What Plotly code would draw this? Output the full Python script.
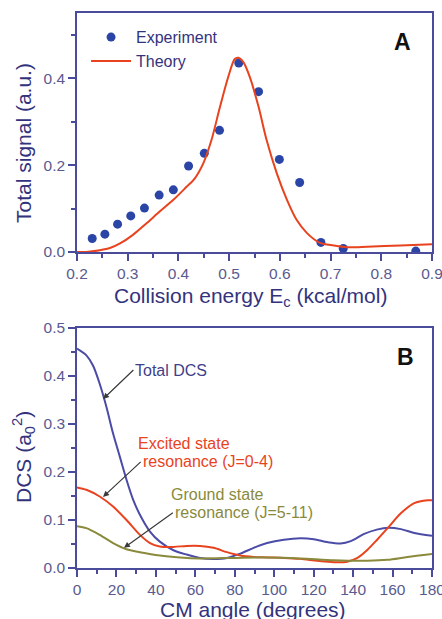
import plotly.graph_objects as go

# ---------- Panel A data ----------
exp_x = [0.230, 0.255, 0.280, 0.306, 0.333, 0.362, 0.390, 0.420, 0.451, 0.481,
         0.519, 0.558, 0.599, 0.639, 0.681, 0.725, 0.868]
exp_y = [0.031, 0.041, 0.064, 0.083, 0.101, 0.131, 0.143, 0.198, 0.227, 0.280,
         0.435, 0.369, 0.213, 0.160, 0.022, 0.008, 0.002]

th_x = [0.200, 0.218, 0.245, 0.265, 0.284, 0.311, 0.337, 0.363, 0.390, 0.416,
        0.432, 0.449, 0.465, 0.482, 0.498, 0.511, 0.518, 0.528, 0.541, 0.558,
        0.574, 0.594, 0.614, 0.633, 0.653, 0.679, 0.706, 0.732, 0.772, 0.838, 0.900]
th_y = [0.000, 0.000, 0.004, 0.009, 0.019, 0.040, 0.066, 0.093, 0.120, 0.150,
        0.169, 0.204, 0.257, 0.334, 0.402, 0.444, 0.447, 0.437, 0.402, 0.334,
        0.257, 0.181, 0.120, 0.074, 0.044, 0.021, 0.015, 0.011, 0.012, 0.015, 0.018]

# ---------- Panel B data ----------
tot_x = [0, 4.75, 8.1, 11.5, 14.9, 18.3, 21.7, 25.1, 28.5, 31.9, 37, 42, 48.9, 55.6,
         62.4, 69.2, 76, 82.8, 89.6, 96.4, 104.9, 113.3, 120.1, 126.9, 133.7, 138.8,
         145.6, 152, 158, 164.2, 171, 180]
tot_y = [0.457, 0.443, 0.422, 0.384, 0.336, 0.280, 0.232, 0.184, 0.142, 0.111, 0.076,
         0.055, 0.037, 0.028, 0.021, 0.019, 0.021, 0.030, 0.042, 0.052, 0.059, 0.062,
         0.060, 0.054, 0.051, 0.056, 0.071, 0.080, 0.084, 0.081, 0.073, 0.067]

exc_x = [0, 4.75, 11.5, 18.3, 25.1, 31.9, 37, 42, 48.9, 55.6, 62.4, 69.2, 76, 82.8,
         89.6, 96.4, 105, 113.3, 121.8, 130.3, 137, 142.2, 147.3, 152.4, 157.5, 164.2,
         171, 177.8, 180]
exc_y = [0.168, 0.163, 0.149, 0.128, 0.100, 0.069, 0.052, 0.045, 0.044, 0.046, 0.046,
         0.042, 0.033, 0.026, 0.023, 0.022, 0.021, 0.019, 0.015, 0.012, 0.013, 0.021,
         0.038, 0.060, 0.083, 0.114, 0.135, 0.141, 0.141]

gnd_x = [0, 4.75, 11.5, 18.3, 25.1, 31.9, 42, 52.3, 62.4, 79.4, 96.4, 113.3, 130.3,
         147.3, 157.5, 167.6, 180]
gnd_y = [0.087, 0.083, 0.069, 0.052, 0.039, 0.033, 0.026, 0.022, 0.020, 0.021, 0.022,
         0.020, 0.016, 0.015, 0.017, 0.023, 0.029]

AXIS = "#4b4b9b"
TICKC = "#5a5a8e"
TITLEC = "#33337d"
FONT = "Liberation Sans, Arial, sans-serif"

fig = go.Figure()

fig.add_trace(go.Scatter(x=exp_x, y=exp_y, mode="markers", name="Experiment",
                         marker=dict(size=9, color="#2b45a6"), xaxis="x", yaxis="y"))
fig.add_trace(go.Scatter(x=th_x, y=th_y, mode="lines", name="Theory",
                         line=dict(color="#e8431e", width=2, shape="spline", smoothing=0.8),
                         xaxis="x", yaxis="y"))

fig.add_trace(go.Scatter(x=tot_x, y=tot_y, mode="lines", showlegend=False,
                         line=dict(color="#4b4ba8", width=2, shape="spline", smoothing=0.8),
                         xaxis="x2", yaxis="y2"))
fig.add_trace(go.Scatter(x=exc_x, y=exc_y, mode="lines", showlegend=False,
                         line=dict(color="#e8431e", width=2, shape="spline", smoothing=0.8),
                         xaxis="x2", yaxis="y2"))
fig.add_trace(go.Scatter(x=gnd_x, y=gnd_y, mode="lines", showlegend=False,
                         line=dict(color="#8a8a3c", width=2, shape="spline", smoothing=0.8),
                         xaxis="x2", yaxis="y2"))

common = dict(showline=True, linecolor=AXIS, linewidth=1.5, mirror=True,
              ticks="outside", ticklen=7, tickwidth=1.5, tickcolor=AXIS,
              showgrid=False, zeroline=False, automargin=False,
              ticklabeloverflow="allow",
              tickfont=dict(size=15.5, color=TICKC, family=FONT))

fig.update_layout(
    width=442, height=619,
    margin=dict(l=77, r=10, t=13, b=51),
    paper_bgcolor="white", plot_bgcolor="white",
    font=dict(family=FONT),
    xaxis=dict(domain=[0, 1], anchor="y", range=[0.2, 0.9], dtick=0.1, tick0=0.2,
               tickformat=".1f",
               minor=dict(dtick=0.05, ticklen=4, ticks="outside", tickcolor=AXIS, tickwidth=1.5),
               **common),
    yaxis=dict(domain=[0.5694, 1.0], anchor="x", range=[0, 0.55],
               tickvals=[0, 0.2, 0.4], tickformat=".1f",
               minor=dict(dtick=0.1, tick0=0, ticklen=4, ticks="outside", tickcolor=AXIS, tickwidth=1.5),
               **common),
    xaxis2=dict(domain=[0, 1], anchor="y2", range=[0, 180], dtick=20, tick0=0,
                minor=dict(dtick=10, ticklen=4, ticks="outside", tickcolor=AXIS, tickwidth=1.5),
                **common),
    yaxis2=dict(domain=[0, 0.4324], anchor="x2", range=[0, 0.5], dtick=0.1, tick0=0,
                tickformat=".1f",
                minor=dict(dtick=0.05, ticklen=4, ticks="outside", tickcolor=AXIS, tickwidth=1.5),
                **common),
    legend=dict(x=0.0255, y=0.987, xanchor="left", yanchor="top",
                bgcolor="rgba(0,0,0,0)", font=dict(size=16, color=TITLEC),
                tracegroupgap=0, itemwidth=40),
)

# Axis titles
def axis_title(text, x, y, angle=0):
    fig.add_annotation(text=text, x=x, y=y, xref="paper", yref="paper",
                       xanchor="center", yanchor="middle", textangle=angle,
                       showarrow=False, font=dict(size=21, color=TITLEC))

axis_title("Collision energy E<sub>c</sub> (kcal/mol)", 0.490, 0.488)
axis_title("Total signal (a.u.)", -0.149, 0.766, -90)
axis_title("CM angle (degrees)", 0.496, -0.0739)
axis_title("DCS (a<sub>0</sub><sup>2</sup>)", -0.152, 0.200, -90)

# Panel labels
fig.add_annotation(text="<b>A</b>", x=0.9155, y=0.9477, xref="paper", yref="paper",
                   xanchor="center", yanchor="middle",
                   showarrow=False, font=dict(size=23, color="#111111"))
fig.add_annotation(text="<b>B</b>", x=0.924, y=0.380, xref="paper", yref="paper",
                   xanchor="center", yanchor="middle",
                   showarrow=False, font=dict(size=23, color="#111111"))


# Panel B labels (plain lines)
def label(text, x, y, color):
    fig.add_annotation(text=text, x=x, y=y, xref="x2", yref="y2", xanchor="left",
                       yanchor="middle", showarrow=False,
                       font=dict(size=16, color=color))


# Panel B labels carrying an arrow from the text to the curve
def arrow_label(text, x, y, tx, ty, color):
    fig.add_annotation(text=text, x=x, y=y, ax=tx, ay=ty, xref="x2", yref="y2",
                       axref="x2", ayref="y2", xanchor="left", yanchor="middle",
                       showarrow=True, arrowhead=2, arrowsize=1, arrowwidth=1.2,
                       arrowcolor="#3a3a3a", font=dict(size=16, color=color))


arrow_label("Total DCS", 13.2, 0.352, 28.6, 0.4125, "#3f3f8a")
label("Excited state", 29.8, 0.260, "#e8431e")
arrow_label("resonance (J=0-4)", 13.2, 0.148, 32.3, 0.221, "#e8431e")
label("Ground state", 46.8, 0.154, "#8a8a3c")
arrow_label("resonance (J=5-11)", 23.8, 0.042, 48.6, 0.115, "#8a8a3c")

fig.write_html("out.html")
